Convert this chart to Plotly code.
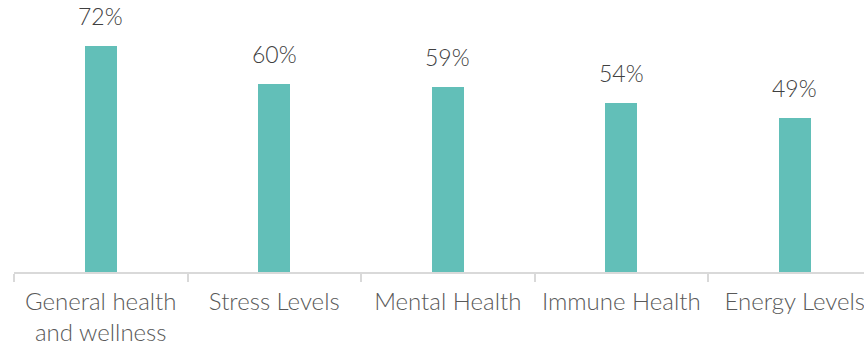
import plotly.graph_objects as go

categories = ["General health<br>and wellness", "Stress Levels", "Mental Health", "Immune Health", "Energy Levels"]
values = [72, 60, 59, 54, 49]
value_labels = ["72%", "60%", "59%", "54%", "49%"]

bar_color = "#62BFB8"
label_color = "#404040"
axis_text_color = "#595959"
font_family = "Lato, 'Noto Sans', sans-serif"

fig = go.Figure()
fig.add_trace(go.Bar(
    x=categories,
    y=values,
    width=0.182,
    marker=dict(color=bar_color, line=dict(width=0)),
    hoverinfo="skip",
))

for cat, v, lab in zip(categories, values, value_labels):
    fig.add_annotation(
        x=cat, y=v, text=lab, showarrow=False,
        xref="x", yref="y", yanchor="middle", yshift=30,
        font=dict(family=font_family, size=23, color=label_color, weight=300),
    )

fig.update_layout(
    width=864, height=349,
    margin=dict(l=14, r=0, t=20, b=77),
    paper_bgcolor="white", plot_bgcolor="white",
    showlegend=False,
    bargap=0,
)
fig.update_xaxes(
    type="category",
    range=[-0.5, -0.5 + 850 / 173.5],
    tickson="boundaries",
    ticks="outside", ticklen=8, tickwidth=2, tickcolor="#D9D9D9",
    showline=True, linecolor="#D9D9D9", linewidth=2,
    showgrid=False, zeroline=False,
    tickfont=dict(family=font_family, size=24, color=axis_text_color, weight=300),
    tickangle=0,
    ticklabelstandoff=7,
)
fig.update_yaxes(
    range=[0, 252 / 3.136],
    visible=False, showgrid=False, zeroline=False,
)

fig.write_html("out.html")
